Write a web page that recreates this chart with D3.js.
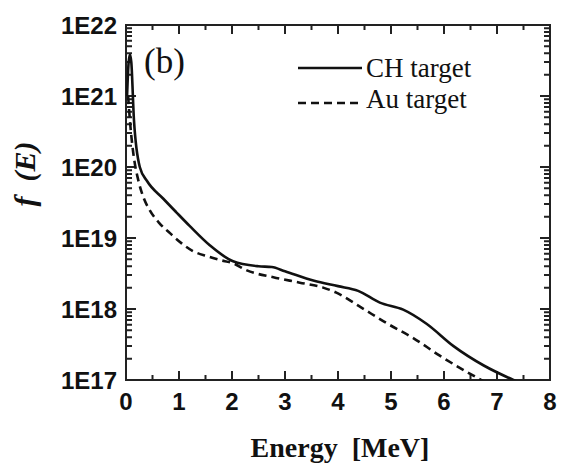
<!DOCTYPE html>
<html>
<head>
<meta charset="utf-8">
<script src="https://cdn.jsdelivr.net/npm/d3@7"></script>
<style>
  body { margin: 0; background: #fff; }
  svg { display: block; }
</style>
</head>
<body>
<div id="chart"></div>
<script>
// data
const chEnergy = [0.02, 0.05, 0.075, 0.1, 0.15, 0.26, 0.4, 0.7, 0.95, 1.2, 1.58, 2.02, 2.5, 2.75, 3.0, 3.55, 4.0, 4.38, 4.79, 5.23, 5.67, 6.18, 6.75, 7.31, 7.45];
const chValue  = [1.0e21, 3.0e21, 3.8e21, 3.0e21, 4.6e20, 1.0e20, 6.3e19, 3.6e19, 2.3e19, 1.48e19, 7.9e18, 4.7e18, 4.0e18, 3.9e18, 3.4e18, 2.5e18, 2.1e18, 1.8e18, 1.23e18, 9.8e17, 6.2e17, 3.0e17, 1.6e17, 1.0e17, 9.0e16];

const auEnergy = [0.04, 0.08, 0.12, 0.16, 0.23, 0.32, 0.45, 0.62, 0.83, 1.05, 1.27, 1.55, 1.77, 2.02, 2.28, 2.78, 3.28, 3.72, 3.97, 4.42, 4.92, 5.42, 5.92, 6.43, 6.68, 6.8];
const auValue  = [1.0e21, 4.0e20, 2.0e20, 1.2e20, 6.6e19, 3.9e19, 2.45e19, 1.65e19, 1.17e19, 8.4e18, 6.5e18, 5.5e18, 4.9e18, 4.4e18, 3.5e18, 2.8e18, 2.35e18, 2.0e18, 1.7e18, 1.07e18, 6.3e17, 3.9e17, 2.2e17, 1.3e17, 1.02e17, 9.0e16];

const xTicks = [0, 1, 2, 3, 4, 5, 6, 7, 8];
const xMinorTicks = [0.5, 1.5, 2.5, 3.5, 4.5, 5.5, 6.5, 7.5];
const yTicks = [1e17, 1e18, 1e19, 1e20, 1e21, 1e22];
const yTickLabels = ["1E17", "1E18", "1E19", "1E20", "1E21", "1E22"];

const seriesNames = ["CH target", "Au target"];

const W = 563, H = 467;
const plot = { left: 126, right: 550, top: 25, bottom: 380 };

const svg = d3.select('#chart').append('svg')
  .attr('width', W)
  .attr('height', H);

const x = d3.scaleLinear().domain([0, 8]).range([plot.left, plot.right]);
const y = d3.scaleLog().domain([1e17, 1e22]).range([plot.bottom, plot.top]);

// minor log ticks 2..9 in each decade
const yMinorTicks = [];
for (let i = 0; i < yTicks.length - 1; i++) {
  for (let k = 2; k <= 9; k++) yMinorTicks.push(yTicks[i] * k);
}

const ink = '#111';
const axisColor = '#222';
const sans = '"Liberation Sans", Arial, sans-serif';
const serif = '"Liberation Serif", "Times New Roman", serif';

// frame
svg.append('rect')
  .attr('x', plot.left)
  .attr('y', plot.top)
  .attr('width', plot.right - plot.left)
  .attr('height', plot.bottom - plot.top)
  .attr('fill', 'none')
  .attr('stroke', axisColor)
  .attr('stroke-width', 2);

// inward tick marks on all four sides, as one path
const tickSegs = [];
xTicks.forEach(d => {
  tickSegs.push([x(d), plot.bottom, x(d), plot.bottom - 9]);
  tickSegs.push([x(d), plot.top, x(d), plot.top + 9]);
});
xMinorTicks.forEach(d => {
  tickSegs.push([x(d), plot.bottom, x(d), plot.bottom - 5]);
  tickSegs.push([x(d), plot.top, x(d), plot.top + 5]);
});
yTicks.forEach(d => {
  tickSegs.push([plot.left, y(d), plot.left + 10, y(d)]);
  tickSegs.push([plot.right, y(d), plot.right - 10, y(d)]);
});
yMinorTicks.forEach(d => {
  tickSegs.push([plot.left, y(d), plot.left + 6, y(d)]);
  tickSegs.push([plot.right, y(d), plot.right - 6, y(d)]);
});
svg.append('path')
  .attr('d', tickSegs.map(s => `M${s[0]},${s[1]}L${s[2]},${s[3]}`).join(''))
  .attr('fill', 'none')
  .attr('stroke', axisColor)
  .attr('stroke-width', 2);

// tick labels
svg.append('g').selectAll('text')
  .data(xTicks).enter().append('text')
  .attr('x', d => x(d))
  .attr('y', 410)
  .attr('text-anchor', 'middle')
  .style('font-family', sans)
  .style('font-weight', 'bold')
  .style('font-size', '24px')
  .attr('fill', ink)
  .text(d => d);

svg.append('g').selectAll('text')
  .data(yTicks).enter().append('text')
  .attr('x', plot.left - 9)
  .attr('y', d => y(d))
  .attr('dy', '0.36em')
  .attr('text-anchor', 'end')
  .style('font-family', sans)
  .style('font-weight', 'bold')
  .style('font-size', '24px')
  .attr('fill', ink)
  .text((d, i) => yTickLabels[i]);

// curves
svg.append('clipPath').attr('id', 'clip')
  .append('rect')
  .attr('x', plot.left)
  .attr('y', plot.top)
  .attr('width', plot.right - plot.left)
  .attr('height', plot.bottom - plot.top);

const line = d3.line()
  .x(d => x(d[0]))
  .y(d => y(d[1]))
  .curve(d3.curveMonotoneX);

svg.append('path')
  .datum(d3.zip(chEnergy, chValue))
  .attr('clip-path', 'url(#clip)')
  .attr('d', line)
  .attr('fill', 'none')
  .attr('stroke', ink)
  .attr('stroke-width', 2.6);

svg.append('path')
  .datum(d3.zip(auEnergy, auValue))
  .attr('clip-path', 'url(#clip)')
  .attr('d', line)
  .attr('fill', 'none')
  .attr('stroke', ink)
  .attr('stroke-width', 2.6)
  .attr('stroke-dasharray', '8,5');

// panel tag
svg.append('text')
  .attr('x', 144)
  .attr('y', 73)
  .style('font-family', serif)
  .style('font-size', '35px')
  .attr('fill', ink)
  .text('(b)');

// legend
const legend = svg.append('g');
[68, 103].forEach((ly, i) => {
  legend.append('line')
    .attr('x1', 298).attr('x2', i === 1 ? 358 : 362)
    .attr('y1', ly).attr('y2', ly)
    .attr('stroke', ink)
    .attr('stroke-width', 2.6)
    .attr('stroke-dasharray', i === 1 ? '8,5' : null);
  legend.append('text')
    .attr('x', 366)
    .attr('y', i === 0 ? 77 : 108)
    .style('font-family', serif)
    .style('font-size', '27px')
    .attr('fill', ink)
    .text(seriesNames[i]);
});

// axis titles
svg.append('text')
  .attr('x', (plot.left + plot.right) / 2 + 2)
  .attr('y', 457)
  .attr('text-anchor', 'middle')
  .style('font-family', serif)
  .style('font-weight', 'bold')
  .style('font-size', '28px')
  .style('white-space', 'pre')
  .attr('fill', ink)
  .text('Energy  [MeV]');

svg.append('text')
  .attr('transform', 'translate(35,174) rotate(-90)')
  .attr('text-anchor', 'middle')
  .style('font-family', serif)
  .style('font-weight', 'bold')
  .style('font-style', 'italic')
  .style('font-size', '30px')
  .style('white-space', 'pre')
  .attr('fill', ink)
  .text('f  (E)');
</script>
</body>
</html>
